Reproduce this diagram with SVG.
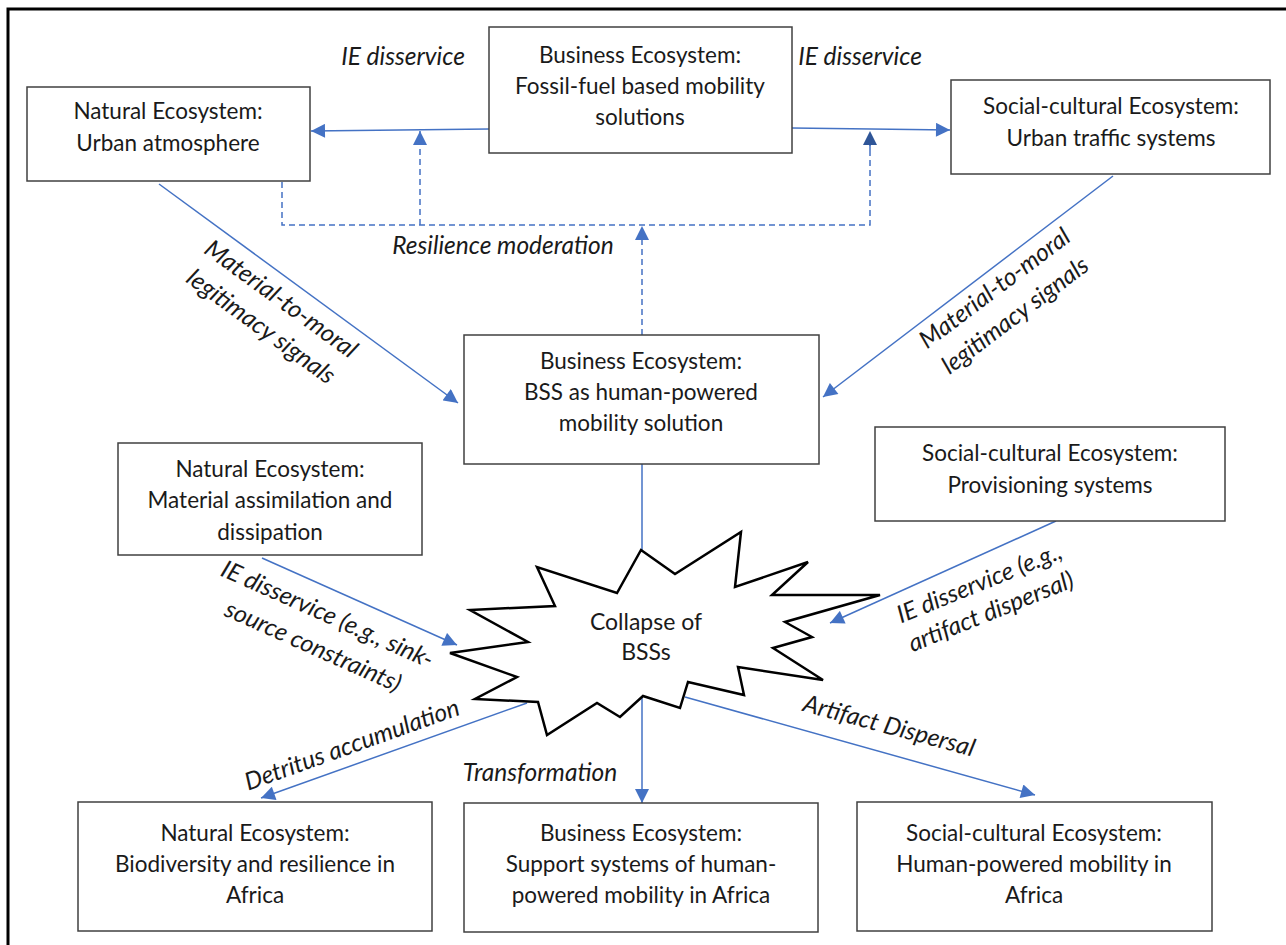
<svg xmlns="http://www.w3.org/2000/svg" width="1286" height="945" viewBox="0 0 1286 945">
<defs>
<style>
.box{fill:#fff;stroke:#404040;stroke-width:1.5}
.nt{font-family:Lato,"Liberation Sans",sans-serif;font-size:22.5px;fill:#1a1a1a;text-anchor:middle}
.lb{font-family:Lato,"Liberation Sans",sans-serif;font-size:24.5px;font-style:italic;fill:#1a1a1a;text-anchor:middle}
.ln{stroke:#4472C4;stroke-width:1.5;fill:none}
.ds{stroke:#4472C4;stroke-width:1.5;fill:none;stroke-dasharray:6,4}
.ar{marker-end:url(#ah)}
</style>
<marker id="ah" viewBox="0 0 10 10" refX="10" refY="5" markerWidth="15" markerHeight="14" markerUnits="userSpaceOnUse" orient="auto"><path d="M0,0 L10,5 L0,10 z" fill="#4472C4"/></marker>
<marker id="ahd" viewBox="0 0 10 10" refX="10" refY="5" markerWidth="15" markerHeight="14" markerUnits="userSpaceOnUse" orient="auto"><path d="M0,0 L10,5 L0,10 z" fill="#2F5597"/></marker>
</defs>
<rect width="1286" height="945" fill="#fff"/>
<rect x="8" y="9" width="1290" height="950" fill="none" stroke="#000" stroke-width="3"/>

<g id="connectors">
<line class="ln ar" x1="489" y1="129" x2="311" y2="131"/>
<line class="ln ar" x1="792" y1="128" x2="950" y2="130"/>
<polyline class="ds" points="282,182 282,225 870,225 870,145"/>
<line class="ds" x1="870" y1="150" x2="870" y2="131" style="marker-end:url(#ahd)"/>
<line class="ds ar" x1="420" y1="225" x2="420" y2="131"/>
<line class="ds ar" x1="642" y1="335" x2="642" y2="226"/>
<line class="ln ar" x1="159" y1="184" x2="458" y2="403"/>
<line class="ln ar" x1="1113" y1="176" x2="823" y2="397"/>
<line class="ln" x1="642" y1="464" x2="642" y2="551"/>
<line class="ln ar" x1="262" y1="558" x2="457" y2="645"/>
<line class="ln ar" x1="1056" y1="521" x2="830" y2="623"/>
<line class="ln ar" x1="527" y1="703" x2="261" y2="798"/>
<line class="ln ar" x1="642" y1="697" x2="642" y2="803"/>
<line class="ln ar" x1="685" y1="697" x2="1035" y2="795"/>
</g>

<g id="labels">
<text class="lb" x="403" y="65">IE disservice</text>
<text class="lb" x="860" y="65">IE disservice</text>
<text class="lb" x="503" y="254">Resilience moderation</text>
<g transform="translate(271,313) rotate(36)"><text class="lb" x="0" y="-9">Material-to-moral</text><text class="lb" x="0" y="25">legitimacy signals</text></g>
<g transform="translate(1005,302) rotate(-37)"><text class="lb" x="0" y="-9">Material-to-moral</text><text class="lb" x="0" y="25">legitimacy signals</text></g>
<g transform="translate(320,631) rotate(24)"><text class="lb" x="0" y="-10">IE disservice (e.g., sink-</text><text class="lb" x="0" y="25">source constraints)</text></g>
<g transform="translate(352,745) rotate(-19.7)"><text class="lb" x="0" y="8">Detritus accumulation</text></g>
<g transform="translate(985,597) rotate(-22)"><text class="lb" x="0" y="-7">IE disservice (e.g.,</text><text class="lb" x="0" y="24">artifact dispersal)</text></g>
<g transform="translate(889,726) rotate(15)"><text class="lb" x="0" y="8">Artifact Dispersal</text></g>
<text class="lb" x="540" y="781">Transformation</text>
</g>

<g id="n-atmosphere"><rect class="box" x="27" y="87" width="283" height="94"/>
<text class="nt" x="168" y="119">Natural Ecosystem:</text><text class="nt" x="168" y="151">Urban atmosphere</text></g>

<g id="n-fossil"><rect class="box" x="489" y="27" width="303" height="126"/>
<text class="nt" x="640" y="63">Business Ecosystem:</text><text class="nt" x="640" y="94">Fossil-fuel based mobility</text><text class="nt" x="640" y="125">solutions</text></g>

<g id="n-traffic"><rect class="box" x="951" y="80" width="319" height="94"/>
<text class="nt" x="1111" y="114">Social-cultural Ecosystem:</text><text class="nt" x="1111" y="146">Urban traffic systems</text></g>

<g id="n-bss"><rect class="box" x="464" y="335" width="355" height="129"/>
<text class="nt" x="641" y="369">Business Ecosystem:</text><text class="nt" x="641" y="400">BSS as human-powered</text><text class="nt" x="641" y="431">mobility solution</text></g>

<g id="n-material"><rect class="box" x="118" y="443" width="304" height="112"/>
<text class="nt" x="270" y="477">Natural Ecosystem:</text><text class="nt" x="270" y="508">Material assimilation and</text><text class="nt" x="270" y="540">dissipation</text></g>

<g id="n-provisioning"><rect class="box" x="875" y="427" width="350" height="94"/>
<text class="nt" x="1050" y="461">Social-cultural Ecosystem:</text><text class="nt" x="1050" y="493">Provisioning systems</text></g>

<g id="n-collapse">
<polygon points="641,550 675,574 741,532 735,587 808,562 772,595 880,595 785,622 812,637 773,648 823,680 738,667 744,695 688,682 680,708 643,696 620,717 597,703 547,735 538,702 475,699 517,677 450,653 528,642 470,610 555,606 537,567 617,593" fill="#fff" stroke="#000" stroke-width="2.5" stroke-linejoin="miter"/>
<text class="nt" style="font-size:23px" x="646" y="630">Collapse of</text><text class="nt" style="font-size:23px" x="646" y="660">BSSs</text></g>

<g id="n-biodiversity"><rect class="box" x="78" y="802" width="354" height="129"/>
<text class="nt" x="255" y="841">Natural Ecosystem:</text><text class="nt" x="255" y="872">Biodiversity and resilience in</text><text class="nt" x="255" y="903">Africa</text></g>

<g id="n-support"><rect class="box" x="464" y="803" width="354" height="129"/>
<text class="nt" x="641" y="841">Business Ecosystem:</text><text class="nt" x="641" y="872">Support systems of human-</text><text class="nt" x="641" y="903">powered mobility in Africa</text></g>

<g id="n-humanpowered"><rect class="box" x="857" y="802" width="355" height="129"/>
<text class="nt" x="1034" y="841">Social-cultural Ecosystem:</text><text class="nt" x="1034" y="872">Human-powered mobility in</text><text class="nt" x="1034" y="903">Africa</text></g>
</svg>
